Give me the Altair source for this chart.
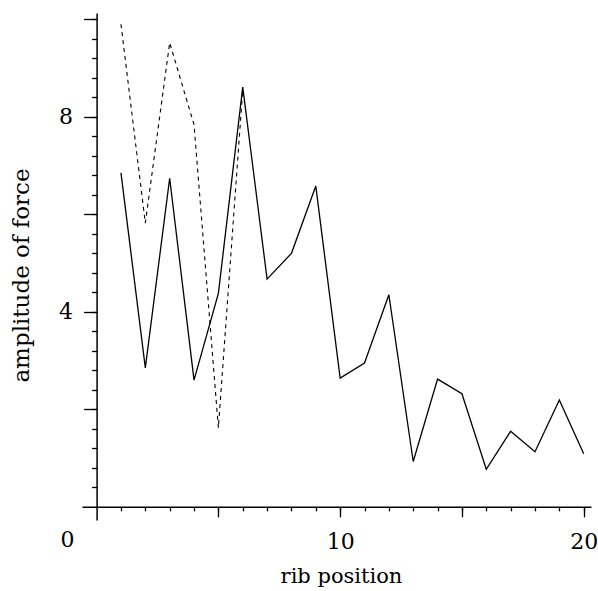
import altair as alt
import pandas as pd

# rib positions and force amplitudes
rib_solid = list(range(1, 21))
amp_solid = [6.85, 2.85, 6.74, 2.60, 4.38, 8.61, 4.67, 5.20, 6.58, 2.64,
             2.95, 4.35, 0.93, 2.62, 2.32, 0.77, 1.55, 1.13, 2.19, 1.09]
rib_dashed = [1, 2, 3, 4, 5, 6]
amp_dashed = [9.90, 5.82, 9.52, 7.84, 1.62, 8.55]

x_major = [5, 10, 15, 20]
x_minor = list(range(1, 21))
y_major = [2, 4, 6, 8, 10]
y_minor = [round(0.4 * i, 1) for i in range(1, 26)]
origin_label = ["0"]

FONT = "DejaVu Serif"

solid = pd.DataFrame({"rib": rib_solid, "amp": amp_solid})
dashed = pd.DataFrame({"rib": rib_dashed, "amp": amp_dashed})
origin = pd.DataFrame({"rib": [0], "amp": [0], "label": origin_label})

x_scale = alt.Scale(domain=[-0.6, 20.3], nice=False, zero=False)
y_scale = alt.Scale(domain=[-0.27, 10.13], nice=False, zero=False)

common = dict(grid=False, domainColor="black", domainWidth=1.5, tickColor="black",
              tickWidth=1.3, labelColor="black", labelFont=FONT, labelFontSize=22,
              titleFont=FONT, titleFontWeight="normal",
              titleColor="black", labelOverlap=False)

x_axis_major = alt.Axis(
    title="rib position",
    orient="bottom",
    values=x_major,
    labelExpr="datum.value % 10 === 0 ? datum.label : ''",
    tickSize=10,
    labelPadding=15,
    offset=-13.2,
    titleFontSize=21,
    titleX=259,
    titleY=76,
    titleBaseline="alphabetic",
    **common,
)
x_axis_minor = alt.Axis(
    title=None, orient="bottom", values=x_minor, labels=False, domain=False,
    tickSize=4, offset=-13.2, grid=False, tickColor="black", tickWidth=1.3,
)

y_axis_major = alt.Axis(
    title="amplitude of force",
    orient="left",
    values=y_major,
    labelExpr="datum.value === 4 || datum.value === 8 ? datum.label : ''",
    tickSize=13,
    labelPadding=11,
    offset=-14.6,
    titleFontSize=23,
    titleX=-63,
    titleY=262,
    **common,
)
y_axis_minor = alt.Axis(
    title=None, orient="left", values=y_minor, labels=False, domain=False,
    tickSize=5, offset=-14.6, grid=False, tickColor="black", tickWidth=1.3,
)

base_solid = alt.Chart(solid).mark_line(color="black", strokeWidth=1.3).encode(
    x=alt.X("rib:Q", scale=x_scale, axis=x_axis_major),
    y=alt.Y("amp:Q", scale=y_scale, axis=y_axis_major),
)

base_dashed = alt.Chart(dashed).mark_line(
    color="black", strokeWidth=1.1, strokeDash=[4, 4]
).encode(
    x=alt.X("rib:Q", scale=x_scale, axis=x_axis_minor),
    y=alt.Y("amp:Q", scale=y_scale, axis=y_axis_minor),
)

origin_text = alt.Chart(origin).mark_text(
    font=FONT, fontSize=22, color="black", dx=-29, dy=33, align="center", baseline="middle"
).encode(
    x=alt.X("rib:Q", scale=x_scale, axis=None),
    y=alt.Y("amp:Q", scale=y_scale, axis=None),
    text="label:N",
)

chart = alt.layer(base_solid, base_dashed, origin_text).resolve_axis(
    x="independent", y="independent"
).properties(
    width=509,
    height=507,
    autosize=alt.AutoSizeParams(type="none"),
    padding={"left": 82, "top": 13, "right": 7, "bottom": 71},
).configure(background="white").configure_view(stroke=None)

chart.save("out.html", embed_options={"renderer": "svg", "actions": False})
